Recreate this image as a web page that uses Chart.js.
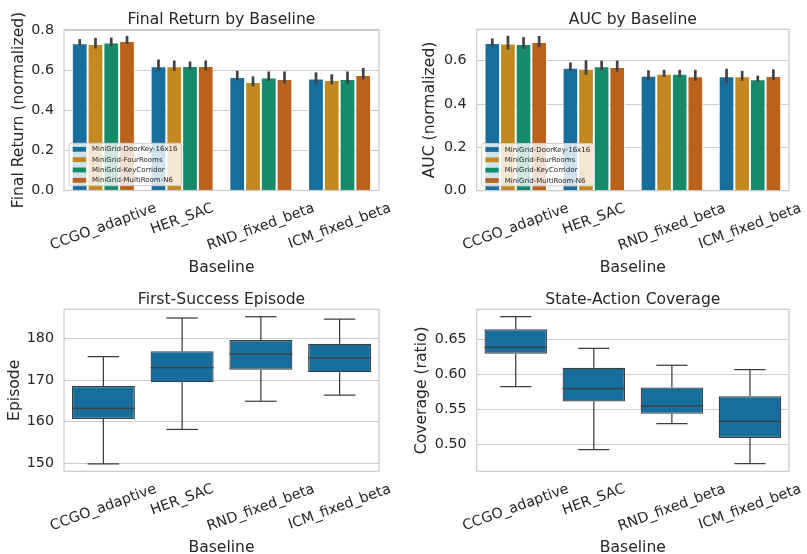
<!DOCTYPE html>
<html><head><meta charset="utf-8">
<script src="https://cdn.jsdelivr.net/npm/chart.js@4.4.1/dist/chart.umd.min.js"></script>
<style>
html,body{margin:0;padding:0;background:#fff;}
#wrap{position:relative;width:807px;height:554px;overflow:hidden;background:#fff;}
canvas{position:absolute;}
</style></head><body>
<div id="wrap">
<canvas id="c1" width="400" height="280" style="left:0px;top:0px"></canvas>
<canvas id="c2" width="407" height="280" style="left:400px;top:0px"></canvas>
<canvas id="c3" width="400" height="274" style="left:0px;top:280px"></canvas>
<canvas id="c4" width="407" height="274" style="left:400px;top:280px"></canvas>
</div>
<script>
// ---------------- DATA ----------------
const baselines = ['CCGO_adaptive', 'HER_SAC', 'RND_fixed_beta', 'ICM_fixed_beta'];
const envs = ['MiniGrid-DoorKey-16x16', 'MiniGrid-FourRooms', 'MiniGrid-KeyCorridor', 'MiniGrid-MultiRoom-N6'];

// Final return (mean) per environment, across baselines
const finalDoorKey     = [0.736, 0.621, 0.568, 0.560];
const finalFourRooms   = [0.733, 0.621, 0.543, 0.553];
const finalKeyCorridor = [0.740, 0.623, 0.565, 0.558];
const finalMultiRoom   = [0.748, 0.623, 0.558, 0.578];
const finalLo = [
  [0.725, 0.598, 0.551, 0.535],
  [0.710, 0.598, 0.521, 0.531],
  [0.720, 0.608, 0.548, 0.531],
  [0.733, 0.600, 0.535, 0.555]
];
const finalHi = [
  [0.757, 0.655, 0.598, 0.591],
  [0.763, 0.650, 0.571, 0.581],
  [0.765, 0.645, 0.595, 0.595],
  [0.773, 0.650, 0.595, 0.613]
];

// AUC (mean) per environment, across baselines
const aucDoorKey     = [0.682, 0.568, 0.531, 0.528];
const aucFourRooms   = [0.680, 0.563, 0.540, 0.528];
const aucKeyCorridor = [0.677, 0.575, 0.540, 0.514];
const aucMultiRoom   = [0.686, 0.571, 0.528, 0.530];
const aucLo = [
  [0.665, 0.552, 0.511, 0.496],
  [0.652, 0.535, 0.525, 0.507],
  [0.654, 0.556, 0.525, 0.503],
  [0.663, 0.550, 0.507, 0.510]
];
const aucHi = [
  [0.703, 0.592, 0.556, 0.563],
  [0.715, 0.602, 0.558, 0.553],
  [0.709, 0.600, 0.558, 0.531],
  [0.714, 0.600, 0.558, 0.560]
];

// First-success episode box stats
const fsLow    = [149.8, 158.1, 164.9, 166.4];
const fsQ1     = [160.6, 169.5, 172.5, 171.9];
const fsMedian = [163.2, 173.0, 176.3, 175.4];
const fsQ3     = [168.6, 177.0, 179.7, 178.8];
const fsHigh   = [175.7, 185.0, 185.3, 184.7];

// State-action coverage box stats
const covLow    = [0.5824, 0.4924, 0.5295, 0.4724];
const covQ1     = [0.6295, 0.5610, 0.5438, 0.5090];
const covMedian = [0.6386, 0.5795, 0.5548, 0.5329];
const covQ3     = [0.6643, 0.6095, 0.5810, 0.5686];
const covHigh   = [0.6824, 0.6371, 0.6129, 0.6067];

// ---------------- STYLE ----------------
const envColors = ['#176D9C', '#C38820', '#168B6A', '#BA611B'];
const boxColor = '#176D9C';
const FONT = '"DejaVu Sans", sans-serif';
const TXT = '#262626';
const TICK = 14.3, LAB = 15.6, TTL = 15.6, LEG = 7;
const GRID = '#cccccc';

function decoPlugin(conf) {
  return {
    id: 'deco',
    afterDatasetsDraw(chart) {
      const ctx = chart.ctx, ca = chart.chartArea, ys = chart.scales.y;
      ctx.save();
      // error bars
      if (conf.errLo) {
        ctx.strokeStyle = '#424242'; ctx.lineWidth = 2.7; ctx.lineCap = 'butt';
        chart.data.datasets.forEach((ds, i) => {
          const meta = chart.getDatasetMeta(i);
          meta.data.forEach((el, j) => {
            ctx.beginPath();
            ctx.moveTo(el.x, ys.getPixelForValue(conf.errLo[i][j]));
            ctx.lineTo(el.x, ys.getPixelForValue(conf.errHi[i][j]));
            ctx.stroke();
          });
        });
      }
      // box whiskers / medians
      if (conf.box) {
        const b = conf.box;
        const meta = chart.getDatasetMeta(0);
        ctx.strokeStyle = '#3d3d3d'; ctx.lineWidth = 1.25;
        const ln = (x1, y1, x2, y2) => { ctx.beginPath(); ctx.moveTo(x1, y1); ctx.lineTo(x2, y2); ctx.stroke(); };
        meta.data.forEach((el, i) => {
          const x = el.x, bw = el.width, y = v => ys.getPixelForValue(v);
          ln(x, y(b.q3[i]), x, y(b.hi[i]));
          ln(x, y(b.q1[i]), x, y(b.lo[i]));
          ln(x - bw / 4, y(b.hi[i]), x + bw / 4, y(b.hi[i]));
          ln(x - bw / 4, y(b.lo[i]), x + bw / 4, y(b.lo[i]));
          ln(x - bw / 2, y(b.med[i]), x + bw / 2, y(b.med[i]));
        });
      }
      // frame
      ctx.strokeStyle = GRID; ctx.lineWidth = 1.25;
      ctx.strokeRect(ca.left, ca.top, ca.right - ca.left, ca.bottom - ca.top);
      // legend
      if (conf.legend) {
        ctx.font = LEG + 'px ' + FONT;
        const labels = chart.data.datasets.map(d => d.label);
        const tw = Math.max(...labels.map(l => ctx.measureText(l).width));
        const fw = tw + 27, fh = 42.4;
        const fx = ca.left + 5, fy = ca.bottom - 4.8 - fh;
        ctx.beginPath();
        ctx.roundRect(fx, fy, fw, fh, 2);
        ctx.fillStyle = 'rgba(255,255,255,0.8)'; ctx.fill();
        ctx.strokeStyle = GRID; ctx.lineWidth = 1; ctx.stroke();
        chart.data.datasets.forEach((d, i) => {
          const cy = fy + 6 + i * 10.33;
          ctx.fillStyle = d.backgroundColor;
          ctx.fillRect(fx + 3.7, cy - 2.4, 13.3, 4.8);
          ctx.fillStyle = TXT; ctx.textAlign = 'left'; ctx.textBaseline = 'middle';
          ctx.fillText(d.label, fx + 23, cy + 0.3);
        });
      }
      ctx.restore();
    },
    afterDraw(chart) {
      const ctx = chart.ctx, ca = chart.chartArea, xs = chart.scales.x;
      ctx.save();
      ctx.fillStyle = TXT;
      // x tick labels (rotated 20deg, centered)
      const a = 20 * Math.PI / 180;
      ctx.font = TICK + 'px ' + FONT;
      chart.data.labels.forEach((lab, i) => {
        const x = xs.getPixelForValue(i);
        const w = ctx.measureText(lab).width;
        const bh = w * Math.sin(a) + TICK * 1.17 * Math.cos(a);
        const cy = ca.bottom + 9.5 + bh / 2;
        ctx.save(); ctx.translate(x, cy); ctx.rotate(-a);
        ctx.textAlign = 'center'; ctx.textBaseline = 'middle';
        ctx.fillText(lab, 0, 0);
        ctx.restore();
      });
      // x axis label
      ctx.font = LAB + 'px ' + FONT;
      ctx.textAlign = 'center'; ctx.textBaseline = 'alphabetic';
      ctx.fillText(conf.xlabel, (ca.left + ca.right) / 2, ca.bottom + 81);
      // y axis label
      ctx.save();
      ctx.translate(conf.ylabelX, (ca.top + ca.bottom) / 2);
      ctx.rotate(-Math.PI / 2);
      ctx.textAlign = 'center'; ctx.textBaseline = 'middle';
      ctx.fillText(conf.ylabel, 0, 0);
      ctx.restore();
      // title
      ctx.font = TTL + 'px ' + FONT;
      ctx.textAlign = 'center'; ctx.textBaseline = 'alphabetic';
      ctx.fillText(conf.title, (ca.left + ca.right) / 2, 24.4);
      ctx.restore();
    }
  };
}

function makeChart(id, type, datasets, geo, yopt, conf) {
  return new Chart(document.getElementById(id), {
    type: type,
    data: { labels: baselines, datasets: datasets },
    options: {
      responsive: false, animation: false, devicePixelRatio: 1,
      layout: { padding: { top: geo.top, right: geo.right, left: 0, bottom: 0 } },
      plugins: { legend: { display: false }, tooltip: { enabled: false }, title: { display: false } },
      scales: {
        x: {
          type: 'category',
          afterFit: s => { s.height = geo.xh; },
          ticks: { display: false },
          grid: { display: false },
          border: { display: false }
        },
        y: {
          min: yopt.min, max: yopt.max,
          afterFit: s => { s.width = geo.yw; },
          ticks: {
            stepSize: yopt.step, includeBounds: false, padding: 10,
            color: TXT, font: { family: 'DejaVu Sans', size: TICK },
            callback: v => v.toFixed(yopt.dec)
          },
          grid: { color: GRID, lineWidth: 1, drawTicks: false },
          border: { display: false }
        }
      }
    },
    plugins: [decoPlugin(conf)]
  });
}

function barSets(series) {
  return series.map((vals, i) => ({
    label: envs[i], data: vals, backgroundColor: envColors[i],
    borderColor: '#ffffff', borderWidth: 1,
    barPercentage: 1.0, categoryPercentage: 0.8
  }));
}

function boxSet(q1, q3) {
  return [{
    label: 'box', data: q1.map((v, i) => [v, q3[i]]),
    backgroundColor: boxColor, borderColor: '#3d3d3d', borderWidth: 1.25,
    borderSkipped: false, barPercentage: 0.8, categoryPercentage: 1.0
  }];
}

makeChart('c1', 'bar',
  barSets([finalDoorKey, finalFourRooms, finalKeyCorridor, finalMultiRoom]),
  { top: 29.5, right: 21, yw: 64, xh: 89.5 },
  { min: 0, max: 0.805, step: 0.2, dec: 1 },
  { title: 'Final Return by Baseline', xlabel: 'Baseline', ylabel: 'Final Return (normalized)', ylabelX: 19,
    legend: true, errLo: finalLo, errHi: finalHi });

makeChart('c2', 'bar',
  barSets([aucDoorKey, aucFourRooms, aucKeyCorridor, aucMultiRoom]),
  { top: 29.3, right: 18, yw: 76.7, xh: 89.3 },
  { min: 0, max: 0.745, step: 0.2, dec: 1 },
  { title: 'AUC by Baseline', xlabel: 'Baseline', ylabel: 'AUC (normalized)', ylabelX: 29.5,
    legend: true, errLo: aucLo, errHi: aucHi });

makeChart('c3', 'bar',
  boxSet(fsQ1, fsQ3),
  { top: 29.3, right: 21, yw: 64, xh: 82.7 },
  { min: 148.0, max: 187.1, step: 10, dec: 0 },
  { title: 'First-Success Episode', xlabel: 'Baseline', ylabel: 'Episode', ylabelX: 14.5,
    box: { lo: fsLow, q1: fsQ1, med: fsMedian, q3: fsQ3, hi: fsHigh } });

makeChart('c4', 'bar',
  boxSet(covQ1, covQ3),
  { top: 29.3, right: 18, yw: 76.7, xh: 82.7 },
  { min: 0.4614, max: 0.6929, step: 0.05, dec: 2 },
  { title: 'State-Action Coverage', xlabel: 'Baseline', ylabel: 'Coverage (ratio)', ylabelX: 21.5,
    box: { lo: covLow, q1: covQ1, med: covMedian, q3: covQ3, hi: covHigh } });
</script>
</body></html>
